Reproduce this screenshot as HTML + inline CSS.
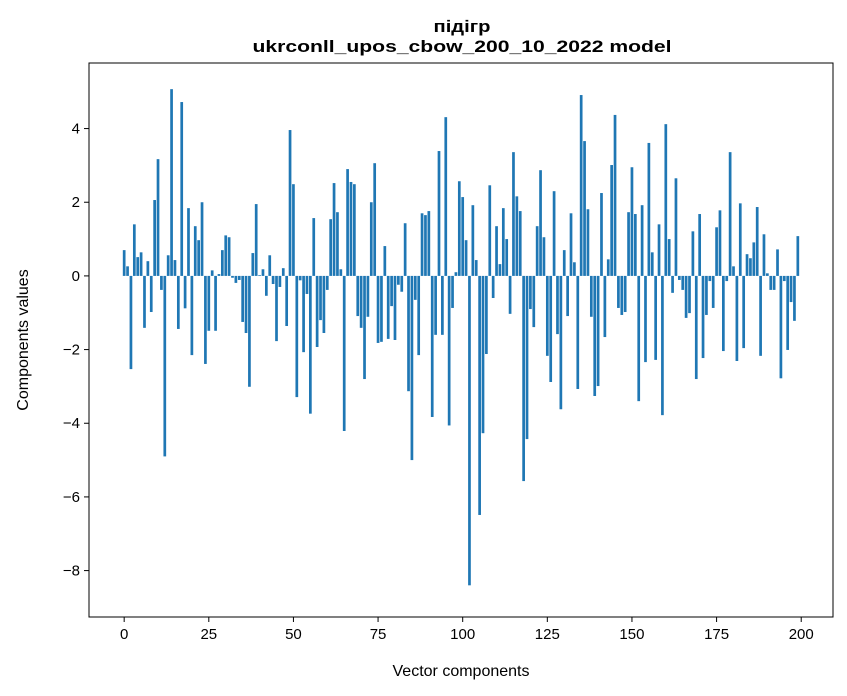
<!DOCTYPE html>
<html><head><meta charset="utf-8"><style>
html,body{margin:0;padding:0;background:#fff;width:847px;height:696px;overflow:hidden}
svg{font-family:"Liberation Sans","DejaVu Sans",sans-serif}
</style></head><body>
<svg id="chart" width="847" height="696" xmlns="http://www.w3.org/2000/svg">
<text x="462" y="32" text-anchor="middle" font-size="17" font-weight="bold" textLength="57" lengthAdjust="spacingAndGlyphs">підігр</text>
<text x="462" y="52" text-anchor="middle" font-size="17" font-weight="bold" textLength="419" lengthAdjust="spacingAndGlyphs">ukrconll_upos_cbow_200_10_2022 model</text>
<g id="bars"></g>
<g id="axes"></g>
<text x="461" y="676" text-anchor="middle" font-size="16">Vector components</text>
<text transform="translate(28,340) rotate(-90)" text-anchor="middle" font-size="16">Components values</text>
</svg>
<script>
const values = [0.70,0.26,-2.53,1.40,0.51,0.64,-1.41,0.40,-0.98,2.06,3.17,-0.38,-4.90,0.56,5.07,0.43,-1.44,4.72,-0.88,1.84,
-2.15,1.35,0.97,2.00,-2.39,-1.49,0.15,-1.49,0.05,0.70,1.10,1.05,-0.05,-0.19,-0.11,-1.25,-1.55,-3.01,0.62,1.95,
0.02,0.18,-0.54,0.56,-0.22,-1.77,-0.30,0.21,-1.36,3.96,2.49,-3.29,-0.12,-2.07,-0.49,-3.74,1.57,-1.93,-1.20,-1.55,
-0.38,1.54,2.52,1.73,0.18,-4.21,2.90,2.55,2.49,-1.09,-1.41,-2.80,-1.11,2.00,3.06,-1.82,-1.79,0.81,-1.71,-0.82,
-1.74,-0.24,-0.43,1.43,-3.13,-5.00,-0.65,-2.15,1.70,1.65,1.76,-3.83,-1.60,3.39,-1.60,4.31,-4.06,-0.87,0.10,2.57,
2.14,0.97,-8.40,1.92,0.43,-6.49,-4.27,-2.12,2.46,-0.60,1.35,0.32,1.84,1.00,-1.03,3.36,2.16,1.76,-5.57,-4.43,
-0.90,-1.39,1.35,2.87,1.05,-2.17,-2.88,2.30,-1.58,-3.62,0.70,-1.09,1.70,0.37,-3.07,4.91,3.66,1.81,-1.11,-3.26,
-2.99,2.25,-1.66,0.45,3.01,4.37,-0.87,-1.06,-0.98,1.73,2.95,1.68,-3.40,1.92,-2.34,3.61,0.64,-2.28,1.40,-3.78,
4.12,1.00,-0.46,2.65,-0.11,-0.38,-1.14,-1.01,1.21,-2.80,1.68,-2.23,-1.06,-0.14,-0.87,1.32,1.78,-2.04,-0.14,3.36,
0.26,-2.31,1.97,-1.96,0.59,0.48,0.91,1.87,-2.17,1.13,0.07,-0.38,-0.38,0.72,-2.78,-0.14,-2.01,-0.71,-1.22,1.08];
const xTicks = [0,25,50,75,100,125,150,175,200];
const yTicks = [-8,-6,-4,-2,0,2,4];
const yTickLabels = ["\u22128","\u22126","\u22124","\u22122","0","2","4"];

const L=89,R=833,T=63,B=617;
const xMin=-10.39,xMax=209.39,yMin=-9.26,yMax=5.78;
const xs=v=>L+(v-xMin)/(xMax-xMin)*(R-L);
const ys=v=>B-(v-yMin)/(yMax-yMin)*(B-T);
const NS="http://www.w3.org/2000/svg";
const bars=document.getElementById('bars');
values.forEach((v,i)=>{
  const r=document.createElementNS(NS,'rect');
  const x0=xs(i-0.4),x1=xs(i+0.4);
  const y0=ys(Math.max(v,0)),y1=ys(Math.min(v,0));
  r.setAttribute('x',x0);r.setAttribute('width',x1-x0);
  r.setAttribute('y',y0);r.setAttribute('height',Math.max(y1-y0,0.3));
  r.setAttribute('fill','#1f77b4');
  
  
  bars.appendChild(r);
});
const axes=document.getElementById('axes');
const frame=document.createElementNS(NS,'rect');
frame.setAttribute('x',L);frame.setAttribute('y',T);frame.setAttribute('width',R-L);frame.setAttribute('height',B-T);
frame.setAttribute('fill','none');frame.setAttribute('stroke','#000');frame.setAttribute('stroke-width','1');


axes.appendChild(frame);
xTicks.forEach(t=>{
  const x=xs(t);
  const l=document.createElementNS(NS,'line');
  l.setAttribute('x1',x);l.setAttribute('x2',x);l.setAttribute('y1',B);l.setAttribute('y2',B+5);l.setAttribute('stroke','#000');
  
  
  axes.appendChild(l);
  const tx=document.createElementNS(NS,'text');
  tx.setAttribute('x',x);tx.setAttribute('y',B+22);tx.setAttribute('text-anchor','middle');tx.setAttribute('font-size','15');
  tx.textContent=t;
  
  
  axes.appendChild(tx);
});
yTicks.forEach((t,k)=>{
  const y=ys(t);
  const l=document.createElementNS(NS,'line');
  l.setAttribute('x1',L-5);l.setAttribute('x2',L);l.setAttribute('y1',y);l.setAttribute('y2',y);l.setAttribute('stroke','#000');
  
  
  axes.appendChild(l);
  const tx=document.createElementNS(NS,'text');
  tx.setAttribute('x',L-9);tx.setAttribute('y',y+5);tx.setAttribute('text-anchor','end');tx.setAttribute('font-size','15');
  tx.textContent=yTickLabels[k];
  
  
  axes.appendChild(tx);
});
</script>
</body></html>
